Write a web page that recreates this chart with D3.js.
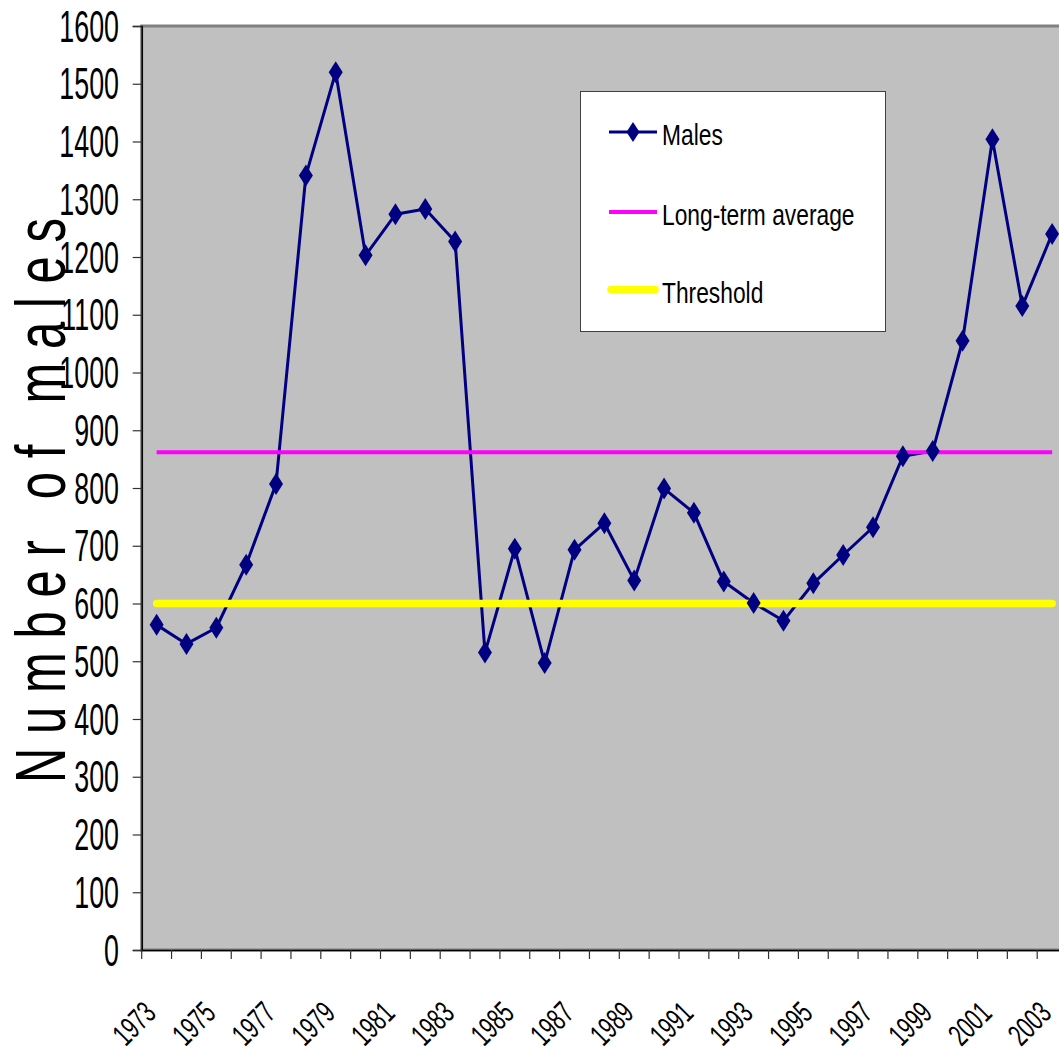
<!DOCTYPE html>
<html>
<head>
<meta charset="utf-8">
<script src="https://cdn.jsdelivr.net/npm/d3@7/dist/d3.min.js"></script>
<style>
  html, body { margin: 0; padding: 0; background: #ffffff; overflow: hidden; }
  svg { display: block; }
  text { font-family: "Liberation Sans", Arial, sans-serif; fill: #000; }
</style>
</head>
<body>
<svg id="chart" width="1059" height="1057"></svg>
<script>
// ---- data ----
const years = [1973,1974,1975,1976,1977,1978,1979,1980,1981,1982,1983,1984,1985,1986,1987,
               1988,1989,1990,1991,1992,1993,1994,1995,1996,1997,1998,1999,2000,2001,2002,2003];
const males = [563,530,558,667,807,1341,1520,1203,1274,1283,1227,515,695,497,693,
               739,640,799,757,638,601,570,635,684,732,855,864,1055,1404,1115,1240];
const longTermAverage = 862;
const threshold = 600;
const yTicks = [0,100,200,300,400,500,600,700,800,900,1000,1100,1200,1300,1400,1500,1600];
const xLabelYears = [1973,1975,1977,1979,1981,1983,1985,1987,1989,1991,1993,1995,1997,1999,2001,2003];
const legendItems = ["Males", "Long-term average", "Threshold"];
const yTitle = "Number of males";

// ---- layout ----
const svg = d3.select("#chart");
const plotLeft = 141.7, step = 29.85, plotTop = 26, plotBottom = 950;
const plotRight = plotLeft + step * years.length;

const x = d3.scaleBand().domain(years).range([plotLeft, plotRight]).paddingInner(0).paddingOuter(0);
const cx = d => x(d) + x.bandwidth() / 2;
const y = d3.scaleLinear().domain([0, 1600]).range([plotBottom, plotTop]);

// plot background
svg.append("rect")
  .attr("x", plotLeft).attr("y", plotTop)
  .attr("width", plotRight - plotLeft).attr("height", plotBottom - plotTop)
  .attr("fill", "#c0c0c0").attr("stroke", "#808080").attr("stroke-width", 3);

// males line
const line = d3.line().x((d, i) => cx(years[i])).y(d => y(d));
svg.append("path").datum(males)
  .attr("d", line).attr("fill", "none")
  .attr("stroke", "#000080").attr("stroke-width", 3).attr("stroke-linejoin", "round");

// long-term average
svg.append("line")
  .attr("x1", cx(years[0])).attr("x2", cx(years[years.length - 1]))
  .attr("y1", y(longTermAverage)).attr("y2", y(longTermAverage))
  .attr("stroke", "#ff00ff").attr("stroke-width", 4);

// threshold
svg.append("line")
  .attr("x1", cx(years[0])).attr("x2", cx(years[years.length - 1]))
  .attr("y1", y(threshold)).attr("y2", y(threshold))
  .attr("stroke", "#ffff00").attr("stroke-width", 7.5).attr("stroke-linecap", "round");

// markers
const diamond = "M0,-11L7,0L0,11L-7,0Z";
svg.append("g").selectAll("path").data(males).join("path")
  .attr("d", diamond)
  .attr("transform", (d, i) => `translate(${cx(years[i])},${y(d)})`)
  .attr("fill", "#000080");

// y axis
const yAxis = svg.append("g").attr("transform", `translate(${plotLeft},0)`)
  .call(d3.axisLeft(y).tickValues(yTicks).tickSize(9).tickFormat(""));
yAxis.select(".domain").attr("stroke", "#000").attr("stroke-width", 1.5);
yAxis.selectAll(".tick line").attr("stroke", "#333").attr("stroke-width", 1.2);

svg.append("g").selectAll("text").data(yTicks).join("text")
  .attr("transform", d => `translate(119,${y(d) + 15.5}) scale(0.61,1)`)
  .attr("text-anchor", "end")
  .style("font-size", "44px")
  .text(d => d);

// x axis
const xAxis = svg.append("g").attr("transform", `translate(0,${plotBottom})`)
  .call(d3.axisBottom(x).tickSize(0).tickFormat(""));
xAxis.select(".domain").attr("stroke", "#000").attr("stroke-width", 1.5);
xAxis.selectAll(".tick").remove();
svg.append("g").selectAll("line").data(years.concat([null])).join("line")
  .attr("x1", (d, i) => plotLeft + i * x.step()).attr("x2", (d, i) => plotLeft + i * x.step())
  .attr("y1", plotBottom).attr("y2", plotBottom + 9)
  .attr("stroke", "#333").attr("stroke-width", 1.2);

svg.append("g").selectAll("text").data(xLabelYears).join("text")
  .attr("transform", d => `translate(${cx(d) + 1},1015) rotate(-45) scale(0.66,1)`)
  .attr("text-anchor", "end")
  .style("font-size", "31px")
  .text(d => d);

// y title
svg.append("text")
  .attr("transform", "translate(65,500.5) rotate(-90) scale(0.69,1)")
  .attr("text-anchor", "middle")
  .attr("textLength", 565 / 0.69)
  .attr("lengthAdjust", "spacing")
  .style("font-size", "71px")
  .text(yTitle);

// legend
const lg = svg.append("g");
lg.append("rect").attr("x", 580.5).attr("y", 91.5).attr("width", 305).attr("height", 240)
  .attr("fill", "#fff").attr("stroke", "#404040").attr("stroke-width", 1);
const rowY = [132, 212, 289.5];
lg.append("line").attr("x1", 609).attr("x2", 657).attr("y1", rowY[0]).attr("y2", rowY[0])
  .attr("stroke", "#000080").attr("stroke-width", 3);
lg.append("path").attr("d", "M0,-10L6.5,0L0,10L-6.5,0Z")
  .attr("transform", `translate(633,${rowY[0]})`).attr("fill", "#000080");
lg.append("line").attr("x1", 609).attr("x2", 657).attr("y1", rowY[1]).attr("y2", rowY[1])
  .attr("stroke", "#ff00ff").attr("stroke-width", 4);
lg.append("line").attr("x1", 611).attr("x2", 655).attr("y1", rowY[2]).attr("y2", rowY[2])
  .attr("stroke", "#ffff00").attr("stroke-width", 7.5).attr("stroke-linecap", "round");
lg.selectAll("text.leg").data(legendItems).join("text").attr("class", "leg")
  .attr("transform", (d, i) => `translate(662,${[145, 225, 303][i]}) scale(0.76,1)`)
  .style("font-size", "30px")
  .text(d => d);
</script>
</body>
</html>
